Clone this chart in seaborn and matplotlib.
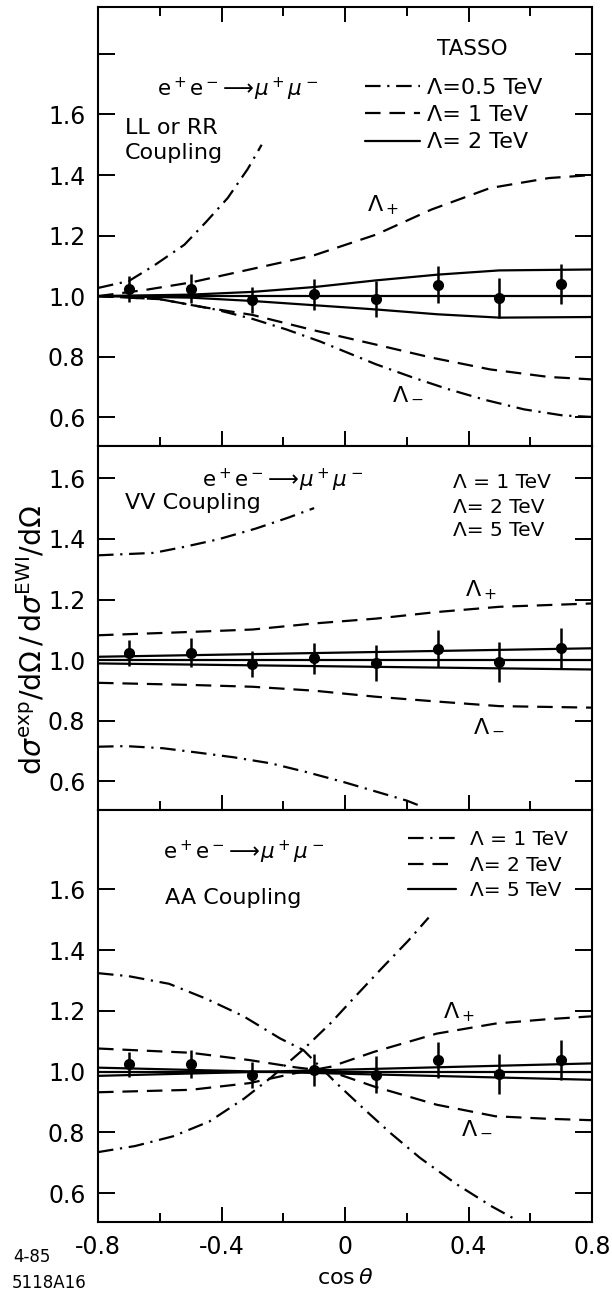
import matplotlib
matplotlib.use("Agg")
import matplotlib.pyplot as plt
import seaborn as sns
from matplotlib.lines import Line2D

# TASSO measured ratio (same points in every panel)
cos_bins = [-0.7, -0.5, -0.3, -0.1, 0.1, 0.3, 0.5, 0.7]
tasso_ratio = [1.024, 1.025, 0.988, 1.006, 0.990, 1.038, 0.993, 1.039]
tasso_err = [0.042, 0.047, 0.043, 0.052, 0.060, 0.060, 0.066, 0.066]

# Standard model reference line
sm_x = [-0.8, 0.8]
sm_y = [1.0, 1.0]

# LL or RR coupling
ll05p_x = [-0.80, -0.70, -0.62, -0.52, -0.45, -0.38, -0.315, -0.27]
ll05p_y = [1.027, 1.05, 1.10, 1.17, 1.245, 1.324, 1.42, 1.50]
ll05m_x = [-0.80, -0.60, -0.42, -0.30, -0.19, -0.08, 0.10, 0.215, 0.33, 0.455, 0.58, 0.705, 0.80]
ll05m_y = [1.0, 0.99, 0.956, 0.925, 0.89, 0.85, 0.775, 0.733, 0.694, 0.657, 0.626, 0.606, 0.601]
ll1p_x = [-0.80, -0.65, -0.50, -0.30, -0.10, 0.10, 0.28, 0.47, 0.66, 0.80]
ll1p_y = [1.0, 1.02, 1.045, 1.09, 1.135, 1.203, 1.286, 1.357, 1.39, 1.40]
ll1m_x = [-0.80, -0.60, -0.45, -0.30, -0.10, 0.10, 0.28, 0.47, 0.66, 0.80]
ll1m_y = [1.0, 0.99, 0.962, 0.938, 0.887, 0.84, 0.797, 0.758, 0.733, 0.725]
ll2p_x = [-0.80, -0.50, -0.30, -0.10, 0.10, 0.30, 0.50, 0.80]
ll2p_y = [1.0, 1.005, 1.014, 1.03, 1.052, 1.071, 1.085, 1.088]
ll2m_x = [-0.80, -0.50, -0.30, -0.10, 0.10, 0.30, 0.50, 0.80]
ll2m_y = [1.0, 0.995, 0.984, 0.97, 0.956, 0.94, 0.929, 0.931]

# VV coupling
vv1p_x = [-0.80, -0.62, -0.52, -0.41, -0.29, -0.185, -0.10]
vv1p_y = [1.346, 1.354, 1.374, 1.399, 1.434, 1.47, 1.502]
vv1m_x = [-0.80, -0.71, -0.59, -0.48, -0.36, -0.24, -0.12, 0.0, 0.12, 0.20, 0.24]
vv1m_y = [0.714, 0.716, 0.709, 0.695, 0.679, 0.659, 0.629, 0.596, 0.56, 0.536, 0.52]
vv2p_x = [-0.80, -0.50, -0.30, -0.10, 0.10, 0.30, 0.50, 0.80]
vv2p_y = [1.082, 1.093, 1.101, 1.121, 1.137, 1.159, 1.176, 1.187]
vv2m_x = [-0.80, -0.50, -0.30, -0.10, 0.10, 0.30, 0.50, 0.80]
vv2m_y = [0.925, 0.918, 0.912, 0.899, 0.879, 0.863, 0.848, 0.843]
vv5p_x = [-0.80, 0.80]
vv5p_y = [1.011, 1.039]
vv5m_x = [-0.80, 0.80]
vv5m_y = [0.989, 0.969]

# AA coupling
aa1a_x = [-0.80, -0.70, -0.57, -0.45, -0.33, -0.21, -0.135, -0.03, 0.053, 0.147, 0.243, 0.362, 0.476, 0.56]
aa1a_y = [1.324, 1.314, 1.289, 1.24, 1.183, 1.109, 1.071, 0.964, 0.885, 0.798, 0.716, 0.629, 0.556, 0.509]
aa1b_x = [-0.80, -0.68, -0.557, -0.439, -0.327, -0.24, -0.135, -0.046, 0.034, 0.119, 0.205, 0.271]
aa1b_y = [0.735, 0.755, 0.787, 0.836, 0.911, 0.98, 1.073, 1.16, 1.248, 1.34, 1.431, 1.507]
aa2a_x = [-0.80, -0.50, -0.31, -0.16, -0.046, 0.094, 0.297, 0.487, 0.65, 0.80]
aa2a_y = [1.076, 1.062, 1.038, 1.014, 1.0, 0.951, 0.891, 0.853, 0.845, 0.84]
aa2b_x = [-0.80, -0.50, -0.31, -0.16, -0.046, 0.094, 0.297, 0.487, 0.65, 0.80]
aa2b_y = [0.932, 0.94, 0.962, 0.995, 1.016, 1.065, 1.125, 1.158, 1.172, 1.182]
aa5a_x = [-0.80, 0.80]
aa5a_y = [1.013, 0.973]
aa5b_x = [-0.80, 0.80]
aa5b_y = [0.986, 1.027]

sns.set_style("ticks")
plt.rcParams['font.family'] = ['DejaVu Sans']
plt.rcParams['mathtext.fontset'] = 'dejavusans'
plt.rcParams['text.color'] = 'black'
plt.rcParams['axes.labelcolor'] = 'black'

DASH = (0, (7, 4))
DASHDOT = (0, (7, 3, 1, 3))
LW = 1.6
W, H = 612, 1295

fig = plt.figure(figsize=(6.12, 12.95), dpi=100)


def px_axes(top, bottom):
    return fig.add_axes([98 / W, 1 - bottom / H, 494 / W, (bottom - top) / H])


def ftext(x, y, s, size=16, **kw):
    fig.text(x / W, 1 - y / H, s, fontsize=size, va='center', color='black', **kw)


def curve(ax, x, y, ls):
    sns.lineplot(x=x, y=y, ax=ax, color='black', lw=LW, linestyle=ls,
                 sort=False, estimator=None)


def style_axis(ax, ylim, yticks, top_ticks, xlabels):
    ax.set_xlim(-0.8, 0.8)
    ax.set_ylim(*ylim)
    ax.set_xticks([-0.8, -0.4, 0, 0.4, 0.8])
    ax.set_xticks([-0.6, -0.2, 0.2, 0.6], minor=True)
    ax.set_yticks(yticks)
    ax.set_yticklabels(['%.1f' % v if v < 1.7 else '' for v in yticks])
    if xlabels:
        ax.set_xticklabels(['-0.8', '-0.4', '0', '0.4', '0.8'])
    else:
        ax.set_xticklabels([])
    ax.tick_params(axis='both', which='both', direction='in', width=1.4,
                   top=top_ticks, right=True, colors='black')
    ax.tick_params(axis='x', which='major', length=11, labelsize=17, pad=9)
    ax.tick_params(axis='x', which='minor', length=6.5)
    ax.tick_params(axis='y', which='major', length=12, labelsize=17, pad=9)
    for sp in ax.spines.values():
        sp.set_linewidth(1.5)
        sp.set_color('black')
        sp.set_visible(True)
    ax.set_xlabel('')
    ax.set_ylabel('')


def data_points(ax):
    ax.errorbar(cos_bins, tasso_ratio, yerr=tasso_err, fmt='o', color='black',
                ms=7, elinewidth=1.8, capsize=0, zorder=5)


handles = [Line2D([], [], color='black', lw=LW, linestyle=DASHDOT),
           Line2D([], [], color='black', lw=LW, linestyle=DASH),
           Line2D([], [], color='black', lw=LW, linestyle='-')]

# ---- top panel: LL or RR ----
ax1 = px_axes(7, 446)
curve(ax1, ll05p_x, ll05p_y, DASHDOT)
curve(ax1, ll05m_x, ll05m_y, DASHDOT)
curve(ax1, ll1p_x, ll1p_y, DASH)
curve(ax1, ll1m_x, ll1m_y, DASH)
curve(ax1, ll2p_x, ll2p_y, '-')
curve(ax1, ll2m_x, ll2m_y, '-')
curve(ax1, sm_x, sm_y, '-')
data_points(ax1)
style_axis(ax1, (0.505, 1.955), [0.6, 0.8, 1.0, 1.2, 1.4, 1.6, 1.8], True, False)
ax1.legend(handles, ['Λ=0.5 TeV', 'Λ= 1 TeV', 'Λ= 2 TeV'], loc='upper left',
           bbox_to_anchor=(0.54, 0.838), frameon=False, fontsize=16,
           handlelength=2.5, handletextpad=0.3, labelspacing=0.32,
           borderpad=0, borderaxespad=0, labelcolor='black')
ftext(437, 49, 'TASSO', size=15.5)
ftext(157, 89, r'$\mathrm{e^+e^-}\!\longrightarrow\!\mu^+\mu^-$', size=15.5)
ftext(125, 128, 'LL or RR')
ftext(125, 153, 'Coupling')
ftext(367, 205, r'$\Lambda_+$', size=16)
ftext(392, 393, r'$\Lambda_-$', size=16)

# ---- middle panel: VV ----
ax2 = px_axes(446, 810)
curve(ax2, vv1p_x, vv1p_y, DASHDOT)
curve(ax2, vv1m_x, vv1m_y, DASHDOT)
curve(ax2, vv2p_x, vv2p_y, DASH)
curve(ax2, vv2m_x, vv2m_y, DASH)
curve(ax2, vv5p_x, vv5p_y, '-')
curve(ax2, vv5m_x, vv5m_y, '-')
curve(ax2, sm_x, sm_y, '-')
data_points(ax2)
style_axis(ax2, (0.505, 1.707), [0.6, 0.8, 1.0, 1.2, 1.4, 1.6], False, False)
ftext(202, 480, r'$\mathrm{e^+e^-}\!\longrightarrow\!\mu^+\mu^-$', size=15.5)
ftext(125, 503, 'VV Coupling')
ftext(453, 482, 'Λ = 1 TeV', size=14.5)
ftext(453, 507, 'Λ= 2 TeV', size=14.5)
ftext(453, 530, 'Λ= 5 TeV', size=14.5)
ftext(465, 590, r'$\Lambda_+$', size=16)
ftext(473, 725, r'$\Lambda_-$', size=16)

# ---- bottom panel: AA ----
ax3 = px_axes(810, 1222)
curve(ax3, aa1a_x, aa1a_y, DASHDOT)
curve(ax3, aa1b_x, aa1b_y, DASHDOT)
curve(ax3, aa2a_x, aa2a_y, DASH)
curve(ax3, aa2b_x, aa2b_y, DASH)
curve(ax3, aa5a_x, aa5a_y, '-')
curve(ax3, aa5b_x, aa5b_y, '-')
curve(ax3, sm_x, sm_y, '-')
data_points(ax3)
style_axis(ax3, (0.505, 1.861), [0.6, 0.8, 1.0, 1.2, 1.4, 1.6], False, True)
ax3.legend(handles, ['Λ = 1 TeV', 'Λ= 2 TeV', 'Λ= 5 TeV'], loc='upper left',
           bbox_to_anchor=(0.6275, 0.952), frameon=False, fontsize=14.5,
           handlelength=2.4, handletextpad=0.7, labelspacing=0.34,
           borderpad=0, borderaxespad=0, labelcolor='black')
ftext(163, 852, r'$\mathrm{e^+e^-}\!\longrightarrow\!\mu^+\mu^-$', size=15.5)
ftext(165, 898, 'AA Coupling')
ftext(443, 1012, r'$\Lambda_+$', size=16)
ftext(461, 1127, r'$\Lambda_-$', size=16)

# axis titles and plate ids
ftext(345, 1278, r'$\cos\theta$', size=16, ha='center')
fig.text(32 / W, 1 - 640 / H,
         r'$\mathrm{d}\sigma^{\mathrm{exp}}/\mathrm{d}\Omega\,/\,\mathrm{d}\sigma^{\mathrm{EWI}}/\mathrm{d}\Omega$',
         rotation=90, fontsize=20.5, ha='center', va='center', color='black')
ftext(13, 1257, '4-85', size=12)
ftext(12, 1283, '5118A16', size=12)

fig.savefig('out.png', dpi=100, facecolor='white')
